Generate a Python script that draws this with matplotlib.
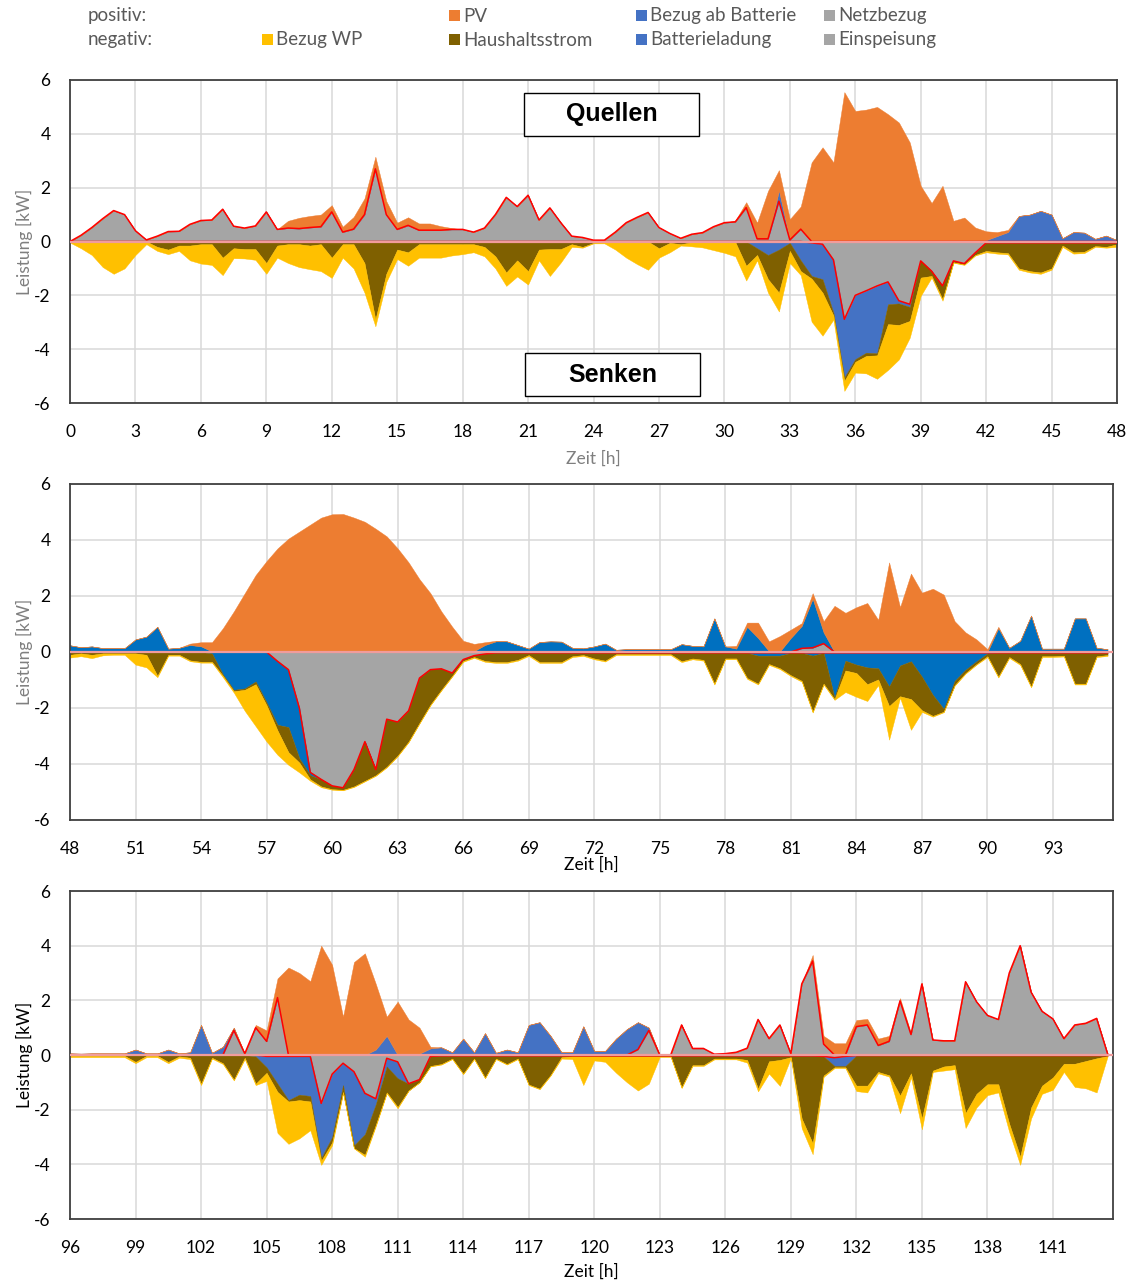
import numpy as np
import matplotlib
matplotlib.use("Agg")
import matplotlib.pyplot as plt
from matplotlib.patches import Rectangle

plt.rcParams['font.family'] = ['Lato', 'DejaVu Sans']
plt.rcParams['axes.unicode_minus'] = False

# ---------------- data (kW, half-hour steps) ----------------
Z12 = [0.0] * 12

# Panel 1: 0 .. 48 h
p1_grid = ([0.00, 0.23, 0.52, 0.85, 1.15, 1.00, 0.40, 0.06, 0.20, 0.37, 0.38, 0.64,
            0.78, 0.80, 1.20, 0.57, 0.50, 0.58, 1.10, 0.45, 0.50, 0.48, 0.52, 0.55,
            1.10, 0.35, 0.46, 1.00, 2.70, 1.00, 0.45, 0.60, 0.42, 0.42, 0.42, 0.45,
            0.45, 0.35, 0.50, 1.00, 1.64, 1.30, 1.72, 0.80, 1.25, 0.70, 0.20, 0.15,
            0.05, 0.05, 0.35, 0.70, 0.90, 1.08, 0.52, 0.30, 0.12, 0.27, 0.33, 0.55,
            0.70, 0.73, 1.26, 0.10, 0.10, 1.50, 0.06, 0.46, 0.00, 0.00, 0.00, 0.00]
           + Z12 + Z12 + [0.0])
p1_battout = (Z12 * 5
              + [0, 0, 0, 0, 0, 0.40, 0, 0, 0, 0, 0, 0]
              + Z12
              + [0.05, 0.20, 0.35, 0.95, 1.00, 1.14, 1.00, 0.12, 0.35, 0.33, 0.10, 0.22]
              + [0.05])
p1_pv = (Z12
         + [0, 0, 0, 0, 0, 0, 0, 0, 0.27, 0.40, 0.43, 0.45]
         + [0.25, 0.20, 0.45, 0.60, 0.45, 0.50, 0.25, 0.30, 0.25, 0.25, 0.15, 0.05]
         + Z12 + Z12
         + [0.00, 0.05, 0.20, 0.60, 1.78, 0.75, 0.77, 0.84, 2.94, 3.50, 2.94, 5.55]
         + [4.85, 4.90, 5.00, 4.73, 4.42, 3.68, 2.07, 1.43, 2.07, 0.77, 0.89, 0.52]
         + [0.33, 0.15, 0.08, 0, 0, 0, 0, 0, 0, 0, 0, 0]
         + [0.0])
p1_feedin = (Z12 * 5
             + [0, 0, 0, 0, 0, 0, 0, 0, 0.05, 0.10, 0.68, 2.89]
             + [2.00, 1.83, 1.65, 1.50, 2.20, 2.33, 0.72, 1.10, 1.65, 0.72, 0.82, 0.42]
             + [0.05] * 12 + [0.05])
p1_battin = (Z12 * 5
             + [0, 0, 0, 0.25, 0.50, 0.30, 0.05, 0.70, 1.23, 1.30, 1.97, 2.16]
             + [2.37, 2.30, 2.50, 0.83, 0.10, 0.10, 0, 0, 0, 0, 0, 0]
             + Z12 + [0.0])
p1_hh = [0, 0, 0, 0, 0, 0, 0, 0, 0.20, 0.30, 0.15, 0.15,
         0.10, 0.10, 0.60, 0.25, 0.28, 0.28, 0.80, 0.15, 0.10, 0.10, 0.15, 0.10,
         0.60, 0.10, 0.10, 0.80, 2.90, 1.20, 0.30, 0.40, 0.10, 0.10, 0.10, 0.10,
         0.10, 0.10, 0.20, 0.55, 1.15, 0.70, 1.10, 0.30, 0.28, 0.28, 0.10, 0.20,
         0.05, 0.02, 0, 0, 0, 0, 0.25, 0.05, 0.10, 0.03, 0, 0,
         0, 0.02, 0.90, 0.25, 0.90, 1.60, 0.30, 0.40, 0.10, 0.50, 0.10, 0.13,
         0.10, 0.12, 0.08, 0.74, 0.80, 0.52, 0.62, 0.18, 0.49, 0.05, 0.03, 0.08,
         0.30, 0.35, 0.38, 0.95, 1.05, 1.10, 0.95, 0.10, 0.35, 0.33, 0.12, 0.15,
         0.05]
p1_wp = [0.04, 0.25, 0.50, 0.95, 1.20, 1.00, 0.50, 0.10, 0.15, 0.17, 0.20, 0.55,
         0.72, 0.77, 0.65, 0.37, 0.35, 0.40, 0.40, 0.45, 0.70, 0.85, 0.88, 1.00,
         0.75, 0.50, 0.90, 1.10, 0.25, 0.30, 0.35, 0.50, 0.50, 0.50, 0.50, 0.42,
         0.37, 0.30, 0.35, 0.45, 0.50, 0.60, 0.50, 0.40, 1.00, 0.50, 0.10, 0.03,
         0.02, 0.05, 0.30, 0.60, 0.84, 1.05, 0.35, 0.35, 0.05, 0.15, 0.22, 0.32,
         0.42, 0.53, 0.55, 0.20, 0.50, 0.70, 0.45, 0.15, 1.60, 1.60, 0.15, 0.37,
         0.40, 0.65, 0.87, 1.70, 1.28, 0.62, 0.68, 0.06, 0.06, 0.02, 0.02, 0.02,
         0.05, 0.05, 0.05, 0.05, 0.05, 0.05, 0.05, 0.05, 0.05, 0.05, 0.03, 0.03,
         0.10]

# Panel 2: 48 .. 95.5 h
p2_grid = Z12 * 5 + [0, 0, 0, 0, 0, 0, 0, 0.13, 0.15, 0.30, 0, 0] + Z12 + Z12
p2_battout = ([0.24, 0.17, 0.20, 0.14, 0.14, 0.14, 0.45, 0.55, 0.90, 0.12, 0.15, 0.25]
              + [0.20, 0.02, 0, 0, 0, 0, 0, 0, 0, 0, 0, 0]
              + Z12
              + [0, 0.03, 0.25, 0.38, 0.38, 0.25, 0.12, 0.36, 0.38, 0.37, 0.15, 0.13]
              + [0.20, 0.30, 0.08, 0.10, 0.10, 0.10, 0.10, 0.10, 0.28, 0.22, 0.20, 1.20]
              + [0.20, 0.12, 0.90, 0.50, 0.03, 0.02, 0.50, 0.80, 1.75, 0.40, 0, 0]
              + Z12
              + [0, 0.85, 0.15, 0.40, 1.30, 0.12, 0.12, 0.12, 1.20, 1.20, 0.15, 0.10])
p2_pv = ([0, 0, 0, 0, 0, 0, 0, 0, 0, 0, 0, 0.05]
         + [0.15, 0.33, 0.85, 1.45, 2.10, 2.75, 3.25, 3.70, 4.05, 4.30, 4.55, 4.80]
         + [4.92, 4.93, 4.80, 4.65, 4.40, 4.13, 3.70, 3.20, 2.60, 2.10, 1.45, 0.90]
         + [0.40, 0.26, 0.10, 0.02, 0, 0, 0, 0, 0, 0, 0, 0]
         + Z12
         + [0, 0.10, 0.15, 0.55, 0.35, 0.55, 0.30, 0.10, 0.20, 0.40, 1.65, 1.40]
         + [1.60, 1.75, 1.15, 3.20, 1.60, 2.80, 2.12, 2.26, 2.05, 1.10, 0.70, 0.45]
         + [0.10, 0.05, 0, 0, 0, 0, 0, 0, 0, 0, 0, 0])
p2_feedin = (Z12
             + [0, 0, 0, 0, 0, 0, 0, 0.33, 0.63, 2.00, 4.30, 4.55]
             + [4.78, 4.85, 4.20, 3.20, 4.20, 2.40, 2.50, 2.10, 0.93, 0.63, 0.60, 0.75]
             + [0.27, 0.13, 0.07, 0.03, 0.03, 0.03, 0.03, 0.03, 0.03, 0.03, 0.03, 0.03]
             + [0.03] * 48)
p2_battin = (Z12
             + [0, 0.05, 0.80, 1.35, 1.30, 1.05, 1.80, 2.27, 2.05, 1.80, 0.10, 0]
             + Z12 + Z12 + Z12
             + [0, 0, 0, 0.10, 0.10, 0.10, 0, 0, 0.10, 0, 1.60, 0.28]
             + [0.42, 0.52, 0.55, 1.20, 0.45, 0.30, 0.85, 1.50, 2.00, 1.00, 0.60, 0.30]
             + [0.02, 0, 0, 0, 0, 0, 0, 0, 0, 0, 0, 0])
p2_hh = [0.10, 0.05, 0.10, 0.05, 0.05, 0.05, 0.05, 0.10, 0.85, 0.10, 0.10, 0.30,
         0.35, 0.30, 0.05, 0.05, 0.05, 0.10, 0.10, 0.20, 0.90, 0.15, 0.15, 0.25,
         0.12, 0.07, 0.60, 1.40, 0.20, 1.70, 1.20, 1.10, 1.60, 1.25, 0.75, 0.10,
         0.05, 0.05, 0.25, 0.33, 0.33, 0.25, 0.08, 0.33, 0.33, 0.33, 0.12, 0.08,
         0.20, 0.28, 0.05, 0.05, 0.05, 0.05, 0.05, 0.05, 0.30, 0.20, 0.25, 1.10,
         0.20, 0.20, 0.90, 1.00, 0.30, 0.45, 0.80, 1.00, 2.00, 1.10, 0.05, 0.35,
         0.30, 0.60, 0.40, 0.70, 1.10, 1.35, 1.20, 0.75, 0.10, 0.15, 0.12, 0.10,
         0.10, 0.85, 0.15, 0.40, 1.20, 0.12, 0.12, 0.10, 1.10, 1.10, 0.12, 0.08]
p2_wp = ([0.10, 0.10, 0.12, 0.07, 0.05, 0.05, 0.40, 0.45, 0.05, 0.03, 0.03, 0.03,
          0.03, 0.03, 0.05, 0.05, 0.75, 1.50, 1.30, 0.87, 0.45, 0.35, 0.05, 0.03]
         + [0.02] * 12 + [0.03] * 24
         + [0.03, 0.03, 0.03, 0.03, 0.03, 0.03, 0.03, 0.03, 0.03, 0.03, 0.03, 0.77]
         + [0.85, 0.60, 0.20, 1.20, 0.05, 1.10, 0.06, 0.03, 0.02, 0.02, 0.02, 0.02]
         + [0.03] * 12)

# Panel 3: 96 .. 143.5 h
p3_grid = (Z12
           + [0, 0, 0, 0.90, 0.05, 1.00, 0.50, 2.10, 0, 0, 0, 0]
           + Z12 + Z12
           + [0, 0, 0, 0, 0.20, 0.90, 0, 0, 1.10, 0.24, 0.24, 0.03]
           + [0.05, 0.10, 0.25, 1.30, 0.60, 1.10, 0.05, 2.60, 3.44, 0.40, 0, 0]
           + [1.04, 1.10, 0.35, 0.50, 1.98, 0.75, 2.60, 0.55, 0.52, 0.52, 2.68, 1.95]
           + [1.45, 1.30, 3.00, 4.00, 2.30, 1.60, 1.32, 0.60, 1.10, 1.16, 1.34, 0.05])
p3_battout = ([0.06, 0.05, 0.06, 0.06, 0.06, 0.06, 0.20, 0.06, 0.06, 0.20, 0.06, 0.10]
              + [1.10, 0.08, 0.30, 0.10, 0, 0, 0, 0, 0, 0, 0, 0]
              + [0, 0, 0, 0, 0.20, 0.70, 0, 0, 0.05, 0.24, 0.28, 0.10]
              + [0.60, 0.10, 0.80, 0.08, 0.20, 0.10, 1.10, 1.20, 0.70, 0.10, 0.10, 1.05]
              + [0.15, 0.15, 0.60, 0.95, 1.00, 0.10, 0, 0, 0, 0, 0, 0]
              + Z12 + Z12 + Z12)
p3_pv = (Z12
         + [0, 0, 0, 0, 0, 0.10, 0.40, 0.70, 3.20, 3.00, 2.70, 4.00]
         + [3.30, 1.40, 3.40, 3.72, 2.40, 0.70, 1.95, 1.30, 0.95, 0.06, 0, 0]
         + Z12 + Z12
         + [0, 0, 0, 0, 0, 0, 0, 0, 0.22, 0.30, 0.43, 0.43]
         + [0.24, 0.22, 0.25, 0.20, 0.10, 0.05, 0.05, 0, 0, 0, 0, 0]
         + Z12)
p3_feedin = (Z12
             + [0, 0, 0, 0, 0, 0, 0.05, 0.05, 0.05, 0.05, 0.05, 1.77]
             + [0.70, 0.30, 0.61, 1.40, 1.60, 0.12, 0.25, 1.05, 0.90, 0.05, 0.03, 0.03]
             + [0.03] * 24
             + [0.03, 0.03, 0.03, 0.03, 0.03, 0.03, 0.03, 0.03, 0.03, 0.05, 0.10, 0.05]
             + [0.02] * 24)
p3_battin = (Z12
             + [0, 0, 0, 0, 0, 0.05, 0.40, 1.00, 1.60, 1.40, 1.45, 2.00]
             + [2.30, 0.80, 2.70, 1.50, 0.20, 0.30, 0.60, 0, 0, 0, 0, 0]
             + Z12 + Z12
             + [0, 0, 0, 0, 0, 0, 0, 0, 0, 0, 0.30, 0.35]
             + Z12 + Z12)
p3_hh = [0.03, 0.03, 0.03, 0.03, 0.03, 0.03, 0.25, 0.03, 0.03, 0.25, 0.05, 0.10,
         1.05, 0.10, 0.30, 0.90, 0.10, 1.00, 0.20, 0.30, 0.05, 0.20, 0.20, 0.10,
         0.20, 0.25, 0.10, 0.75, 0.75, 0.95, 1.05, 0.25, 0.10, 0.35, 0.30, 0.10,
         0.65, 0.10, 0.80, 0.10, 0.30, 0.10, 1.05, 1.20, 0.70, 0.05, 0.02, 0.02,
         0.02, 0.02, 0.02, 0.02, 0.02, 0.02, 0.02, 0.02, 1.15, 0.34, 0.34, 0.10,
         0.10, 0.10, 0.15, 1.20, 0.20, 0.15, 0.05, 2.30, 3.20, 0.70, 0.05, 0.05,
         1.10, 1.10, 0.60, 0.72, 1.46, 0.65, 2.30, 0.55, 0.40, 0.35, 2.10, 1.40,
         1.05, 1.05, 2.50, 3.70, 1.90, 1.10, 0.80, 0.30, 0.30, 0.20, 0.10, 0.02]
p3_wp = [0.05, 0.05, 0.05, 0.05, 0.05, 0.05, 0.05, 0.05, 0.05, 0.05, 0.05, 0.05,
         0.05, 0.03, 0.03, 0.03, 0.05, 0.05, 0.30, 1.50, 1.55, 1.40, 1.05, 0.15,
         0.10, 0.05, 0.00, 0.07, 0.05, 0.03, 0.05, 0.00, 0.00, 0.02, 0.02, 0.02,
         0.02, 0.02, 0.02, 0.02, 0.02, 0.02, 0.02, 0.02, 0.02, 0.05, 0.10, 1.05,
         0.15, 0.20, 0.60, 0.95, 1.25, 1.00, 0.02, 0.02, 0.03, 0.03, 0.03, 0.03,
         0.03, 0.03, 0.10, 0.10, 0.45, 0.95, 0.03, 0.35, 0.40, 0.05, 0.03, 0.03,
         0.20, 0.25, 0.05, 0.05, 0.65, 0.15, 0.40, 0.05, 0.15, 0.15, 0.55, 0.50,
         0.40, 0.30, 0.30, 0.30, 0.40, 0.30, 0.45, 0.30, 0.85, 1.00, 1.25, 0.02]

x_ticks1 = list(range(0, 49, 3))
x_ticks2 = list(range(48, 94, 3))
x_ticks3 = list(range(96, 142, 3))
y_ticks = list(range(-6, 7, 2))

legend_pos = [("PV", "#ED7D31"), ("Bezug ab Batterie", "#4472C4"), ("Netzbezug", "#A5A5A5")]
legend_neg = [("Bezug WP", "#FFC000"), ("Haushaltsstrom", "#7F6000"),
              ("Batterieladung", "#4472C4"), ("Einspeisung", "#A5A5A5")]

# ---------------- styles ----------------
ORANGE = "#ED7D31"
GREY = "#A5A5A5"
YELLOW = "#FFC000"
BROWN = "#7F6000"
BLUE1 = "#4472C4"
BLUE2 = "#0070C0"

W, H = 1135, 1281
fig = plt.figure(figsize=(W / 100, H / 100), dpi=100)


def rect(l, t, r, b):
    return [l / W, 1 - b / H, (r - l) / W, (b - t) / H]


def panel(pos, t0, step, series, blue, xmin, xmax, xticks, xlabel_color, ylabel_color, xlabel_pad):
    grid, battout, pv, feedin, battin, hh, wp = [np.asarray(s, float) for s in series]
    t = t0 + step * np.arange(len(grid))
    ax = fig.add_axes(pos)
    p1 = grid
    p2 = p1 + battout
    p3 = p2 + pv
    n1 = -feedin
    n2 = n1 - battin
    n3 = n2 - hh
    n4 = n3 - wp
    kw = dict(linewidth=0.3)
    ax.fill_between(t, 0, p1, color=GREY, **kw)
    ax.fill_between(t, p1, p2, color=blue, **kw)
    ax.fill_between(t, p2, p3, color=ORANGE, **kw)
    ax.fill_between(t, 0, n1, color=GREY, **kw)
    ax.fill_between(t, n1, n2, color=blue, **kw)
    ax.fill_between(t, n2, n3, color=BROWN, **kw)
    ax.fill_between(t, n3, n4, color=YELLOW, **kw)
    ax.plot(t, p1, color="#FF0000", lw=1.1, zorder=3)
    ax.plot(t, n1, color="#FF0000", lw=1.1, zorder=3)
    ax.axhline(0, color="#F19C9C", lw=1.6, zorder=4)
    ax.set_xlim(xmin, xmax)
    ax.set_ylim(-6, 6)
    ax.set_xticks(xticks)
    ax.set_yticks(y_ticks)
    ax.grid(True, color="#D9D9D9", lw=1.1)
    ax.set_axisbelow(True)
    ax.tick_params(length=0, labelsize=12.5, colors="#000000")
    ax.tick_params(axis="x", pad=15)
    ax.tick_params(axis="y", pad=14)
    for sp in ax.spines.values():
        sp.set_color("#404040")
        sp.set_linewidth(1.3)
    ax.set_xlabel("Zeit [h]", fontsize=12.5, color=xlabel_color, labelpad=xlabel_pad)
    ax.set_ylabel("Leistung [kW]", fontsize=12.5, color=ylabel_color, labelpad=1)
    return ax


ax1 = panel(rect(70, 80, 1117, 403), 0.0, 0.5,
            [p1_grid, p1_battout, p1_pv, p1_feedin, p1_battin, p1_hh, p1_wp],
            BLUE1, 0, 48, x_ticks1, "#7F7F7F", "#7F7F7F", 7.5)
ax2 = panel(rect(70, 484, 1113, 820), 48.0, 0.5,
            [p2_grid, p2_battout, p2_pv, p2_feedin, p2_battin, p2_hh, p2_wp],
            BLUE2, 48, 95.75, x_ticks2, "#000000", "#7F7F7F", -0.5)
ax3 = panel(rect(70, 891, 1113, 1219), 96.0, 0.5,
            [p3_grid, p3_battout, p3_pv, p3_feedin, p3_battin, p3_hh, p3_wp],
            BLUE1, 96, 143.75, x_ticks3, "#000000", "#000000", 5.5)

# Quellen / Senken boxes
for (l, t, r, b, txt) in [(524, 93, 699, 136, "Quellen"), (525, 353, 700, 396, "Senken")]:
    fig.patches.append(Rectangle((l / W, 1 - b / H), (r - l) / W, (b - t) / H,
                                 transform=fig.transFigure, facecolor="white",
                                 edgecolor="#000000", lw=1.0, zorder=10))
    fig.text((l + r) / 2 / W, 1 - (t + b) / 2 / H, txt, ha="center", va="center",
             fontsize=18, fontweight="bold", family=["Liberation Sans", "DejaVu Sans"],
             zorder=11)

# legend
LC = "#595959"
LFS = 13.5
fig.text(88 / W, 1 - 16 / H, "positiv:", fontsize=LFS, color=LC, va="center")
fig.text(88 / W, 1 - 40 / H, "negativ:", fontsize=LFS, color=LC, va="center")
pos_x = [449, 636, 824]
neg_x = [262, 449, 636, 824]
for (lab, c), x in zip(legend_pos, pos_x):
    fig.patches.append(Rectangle((x / W, 1 - 21 / H), 11 / W, 11 / H,
                                 transform=fig.transFigure, facecolor=c, edgecolor="none"))
    fig.text((x + 14) / W, 1 - 16 / H, lab, fontsize=LFS, color=LC, va="center")
for (lab, c), x in zip(legend_neg, neg_x):
    fig.patches.append(Rectangle((x / W, 1 - 45 / H), 11 / W, 11 / H,
                                 transform=fig.transFigure, facecolor=c, edgecolor="none"))
    fig.text((x + 14) / W, 1 - 40 / H, lab, fontsize=LFS, color=LC, va="center")

fig.savefig("out.png", dpi=100)
